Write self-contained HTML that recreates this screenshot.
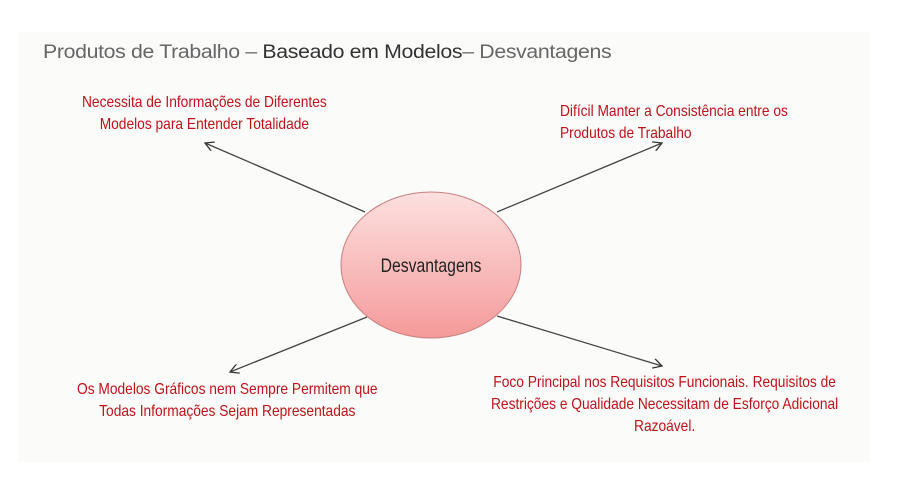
<!DOCTYPE html>
<html><head><meta charset="utf-8"><style>
body{margin:0;width:909px;height:502px;background:#fff;position:relative;overflow:hidden;font-family:"Liberation Sans Narrow","Liberation Sans",sans-serif}
.bg{position:absolute;left:18px;top:32px;width:852px;height:430px;background:#fbfbfa}
.t{position:absolute;color:#c0121a;font-size:16px;line-height:22px;white-space:nowrap;transform:scaleX(0.86);transform-origin:0 0}
.title{position:absolute;left:43px;top:42px;font-family:"Liberation Sans",sans-serif;font-size:19px;color:#666;letter-spacing:-0.3px;transform:scaleX(1.12);transform-origin:0 0;white-space:nowrap}
.title b{font-weight:normal;color:#333}
</style></head><body>
<div class="bg"></div>
<div class="title">Produtos de Trabalho – <b>Baseado em Modelos</b>– Desvantagens</div>
<svg style="position:absolute;left:0;top:0" width="909" height="502">
<defs>
<linearGradient id="g" x1="0" y1="0" x2="0" y2="1"><stop offset="0" stop-color="#fde0e0"/><stop offset="1" stop-color="#f59a9a"/></linearGradient>
<marker id="a" markerWidth="10" markerHeight="10" refX="9" refY="5" orient="auto" markerUnits="userSpaceOnUse"><path d="M0,0 L9,5 L0,10" fill="none" stroke="#333" stroke-width="1.3"/></marker>
</defs>
<g stroke="#444" stroke-width="1.3">
<line x1="365" y1="212" x2="205" y2="143" marker-end="url(#a)"/>
<line x1="497" y1="212" x2="662" y2="143" marker-end="url(#a)"/>
<line x1="367" y1="317" x2="230" y2="372" marker-end="url(#a)"/>
<line x1="497" y1="316" x2="662" y2="366" marker-end="url(#a)"/>
</g>
<ellipse cx="431" cy="265" rx="90" ry="73" fill="url(#g)" stroke="#c98080" stroke-width="1"/>
<text x="431" y="272" text-anchor="middle" font-family="Liberation Sans, sans-serif" font-size="19" fill="#222" transform="translate(431 0) scale(0.83 1) translate(-431 0)">Desvantagens</text>
</svg>
<div class="t" style="left:82px;top:92px;text-align:center">Necessita de Informações de Diferentes<br>Modelos para Entender Totalidade</div>
<div class="t" style="left:560px;top:101px">Difícil Manter a Consistência entre os<br>Produtos de Trabalho</div>
<div class="t" style="left:77px;top:379px;text-align:center">Os Modelos Gráficos nem Sempre Permitem que<br>Todas Informações Sejam Representadas</div>
<div class="t" style="left:491px;top:372px;text-align:center">Foco Principal nos Requisitos Funcionais. Requisitos de<br>Restrições e Qualidade Necessitam de Esforço Adicional<br>Razoável.</div>
</body></html>
